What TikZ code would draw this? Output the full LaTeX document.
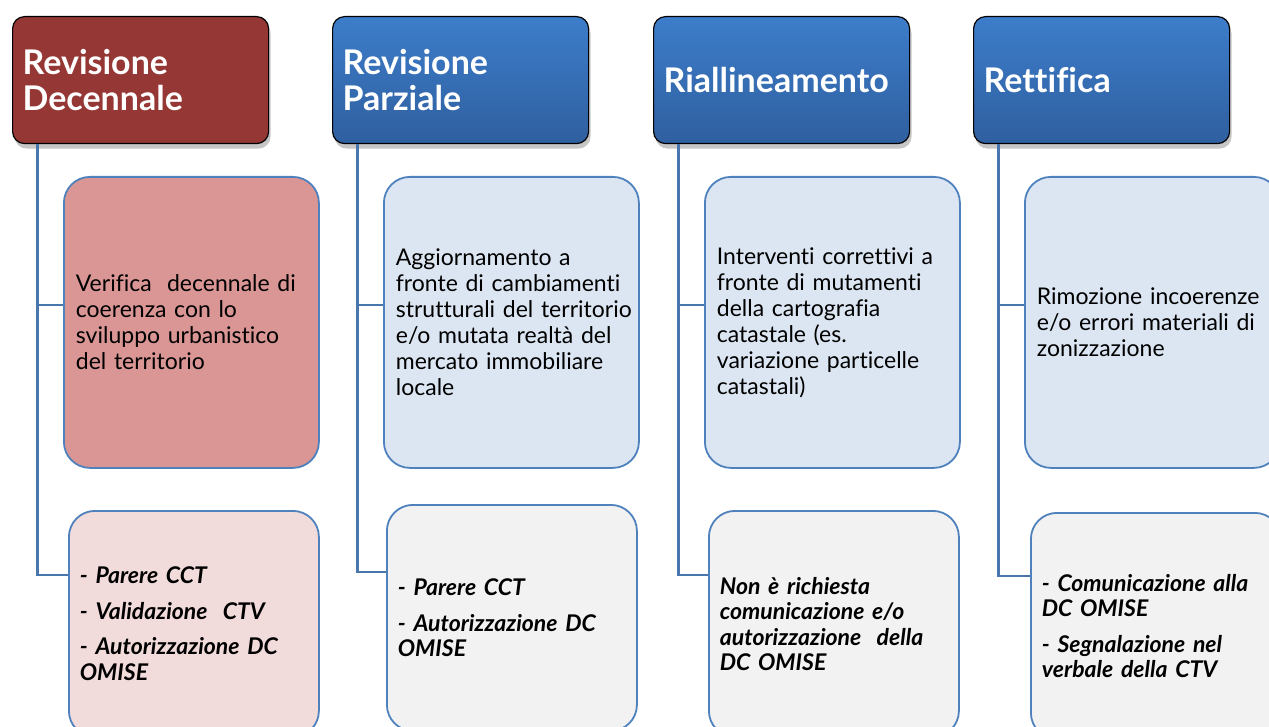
\documentclass[tikz,border=0pt]{standalone}
\usepackage{fontspec}
\setmainfont{Lato}[Ligatures=NoCommon]
\usetikzlibrary{shadows,calc}
\definecolor{hdrred}{HTML}{953735}
\definecolor{hdrtop}{HTML}{3D7DCA}
\definecolor{hdrbot}{HTML}{2F5F9F}
\definecolor{edgeblue}{HTML}{4F81BD}
\definecolor{lineblue}{HTML}{4A76AE}
\definecolor{midred}{HTML}{D99694}
\definecolor{midblue}{HTML}{DCE6F2}
\definecolor{lowred}{HTML}{F2DCDB}
\definecolor{lowgray}{HTML}{F2F2F2}
\tikzset{
  hdr/.style={draw=black, line width=1.2pt, rounded corners=12pt, anchor=north west,
    minimum width=256pt, minimum height=127pt, inner xsep=10pt, inner ysep=0pt,
    text width=236pt, align=left, text=white,
    font=\fontsize{34}{36}\selectfont\bfseries,
    drop shadow={opacity=0.45, shadow xshift=2pt, shadow yshift=-5pt}},
  hdrblue/.style={hdr, top color=hdrtop, bottom color=hdrbot},
  midbox/.style={draw=edgeblue, line width=1.8pt, rounded corners=26pt, anchor=north west,
    minimum width=255pt, minimum height=291pt, inner xsep=12pt, inner ysep=0pt,
    text width=231pt, align=left, text=black,
    font=\fontsize{23}{26}\selectfont},
  lowbox/.style={draw=edgeblue, line width=1.8pt, rounded corners=26pt, anchor=north west,
    minimum width=250pt, minimum height=226pt, inner xsep=11pt, inner ysep=0pt,
    text width=228pt, align=left, text=black,
    font=\fontsize{23}{25.5}\selectfont\bfseries\itshape},
  conn/.style={draw=lineblue, line width=2.4pt}
}
\newcommand{\itemgap}{\par\vspace{10pt}}
\begin{document}
\begin{tikzpicture}[x=1pt,y=-1pt]
\useasboundingbox (0,0) rectangle (1269,727);
\clip (0,0) rectangle (1269,727);
% headers
\node[hdr, fill=hdrred] (h1) at (12,16) {Revisione\\Decennale};
\node[hdrblue] (h2) at (332,16) {Revisione\\Parziale};
\node[hdrblue] (h3) at (653,16) {Riallineamento};
\node[hdrblue] (h4) at (973,16) {Rettifica};
% middle boxes
\node[midbox, fill=midred] (m1) at (63,176) {\mbox{Verifica\ \ decennale di}\\coerenza con lo\\sviluppo urbanistico\\del territorio};
\node[midbox, fill=midblue] (m2) at (383,176) {Aggiornamento a\\\mbox{fronte di cambiamenti}\\\mbox{strutturali del territorio}\\e/o mutata realtà del\\mercato immobiliare\\locale};
\node[midbox, fill=midblue] (m3) at (704,176) {\mbox{Interventi correttivi a}\\fronte di mutamenti\\della cartografia\\catastale (es.\\variazione particelle\\catastali)};
\node[midbox, fill=midblue] (m4) at (1024,176) {\mbox{Rimozione incoerenze}\\\mbox{e/o errori materiali di}\\zonizzazione};
% lower boxes
\node[lowbox, fill=lowred] (b1) at (68,510) {- Parere CCT\itemgap - Validazione\ \ CTV\itemgap \mbox{- Autorizzazione DC}\\OMISE};
\node[lowbox, fill=lowgray] (b2) at (386,504) {- Parere CCT\itemgap \mbox{- Autorizzazione DC}\\OMISE};
\node[lowbox, fill=lowgray] (b3) at (708,510) {Non è richiesta\\comunicazione e/o\\\mbox{autorizzazione\ \ della}\\DC OMISE};
\node[lowbox, fill=lowgray] (b4) at (1030,512) {\mbox{- Comunicazione alla}\\DC OMISE\itemgap - Segnalazione nel\\verbale della CTV};
% connectors
\foreach \i/\lo in {1/65,2/68,3/65,4/64}{
  \draw[conn] ($(h\i.south west)+(25.5,0)$) |- ($(b\i.north west)+(0,\lo)$);
  \draw[conn] ($(h\i.south west)+(25.5,0)$) |- ($(m\i.north west)+(0,129)$);
}
\end{tikzpicture}
\end{document}
